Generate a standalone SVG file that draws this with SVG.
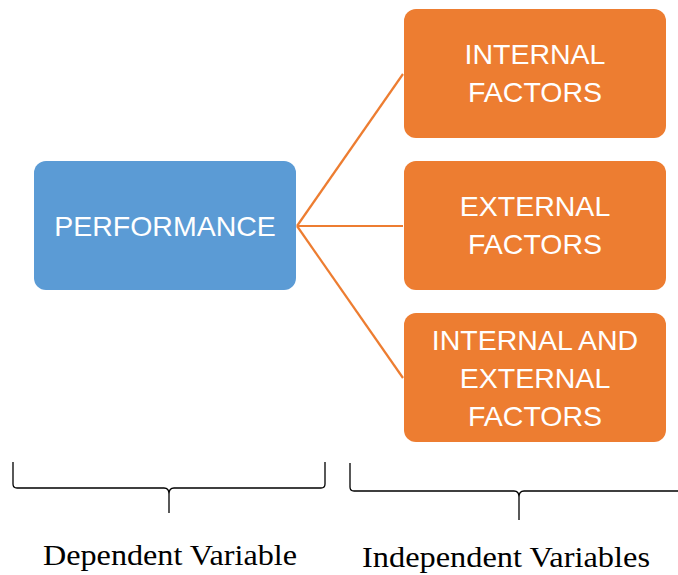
<svg xmlns="http://www.w3.org/2000/svg" width="678" height="575" viewBox="0 0 678 575">
<style>
.box{stroke:none}
.blue{fill:#5B9BD5}
.orange{fill:#ED7D31}
.t{font-family:"Liberation Sans",Arial,sans-serif;font-size:28.5px;fill:#fff;text-anchor:middle}
.lab{font-family:"Liberation Serif","Times New Roman",serif;font-size:30px;fill:#000}
.conn{stroke:#ED7D31;stroke-width:2.2;fill:none}
.brace{stroke:#000;stroke-width:1.3;fill:none}
</style>
<rect width="678" height="575" fill="#fff"/>
<g id="connectors">
<line class="conn" x1="297" y1="226" x2="403" y2="74"/>
<line class="conn" x1="297" y1="226" x2="403" y2="226"/>
<line class="conn" x1="297" y1="226" x2="403" y2="378"/>
</g>
<g id="performance">
<rect class="box blue" x="34" y="161" width="262" height="129" rx="12"/>
<text class="t" x="165" y="236">PERFORMANCE</text>
</g>
<g id="internal">
<rect class="box orange" x="404" y="9" width="262" height="129" rx="12"/>
<text class="t" x="535" y="64">INTERNAL</text>
<text class="t" x="535" y="102">FACTORS</text>
</g>
<g id="external">
<rect class="box orange" x="404" y="161" width="262" height="129" rx="12"/>
<text class="t" x="535" y="216">EXTERNAL</text>
<text class="t" x="535" y="254">FACTORS</text>
</g>
<g id="internal-external">
<rect class="box orange" x="404" y="313" width="262" height="129" rx="12"/>
<text class="t" x="535" y="350">INTERNAL AND</text>
<text class="t" x="535" y="388">EXTERNAL</text>
<text class="t" x="535" y="426">FACTORS</text>
</g>
<g id="dependent-brace">
<path class="brace" d="M13,462 V484 Q13,488 17,488 H164 Q169,488 169,494 V513 M169,494 Q169,488 174,488 H321 Q325,488 325,484 V462"/>
<text class="lab" x="43" y="565" textLength="254" lengthAdjust="spacingAndGlyphs">Dependent Variable</text>
</g>
<g id="independent-brace">
<path class="brace" d="M350,463 V487 Q350,491 354,491 H514 Q519,491 519,497 V520 M519,497 Q519,491 524,491 H678"/>
<text class="lab" x="362" y="567" textLength="288" lengthAdjust="spacingAndGlyphs">Independent Variables</text>
</g>
</svg>
